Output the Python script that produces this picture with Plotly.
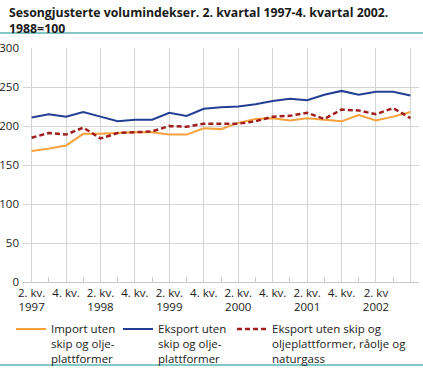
import plotly.graph_objects as go

quarters = list(range(23))  # 2. kv. 1997 ... 4. kv. 2002
tick_positions = list(range(0, 23, 2))
tick_labels = ["2. kv.<br>1997", "4. kv.", "2. kv.<br>1998", "4. kv.", "2. kv.<br>1999", "4. kv.",
               "2. kv.<br>2000", "4. kv.", "2. kv.<br>2001", "4. kv.", "2. kv<br>2002", "4. kv."]

import_vals = [168, 171, 175, 190, 190, 191, 192, 192, 189, 189, 197, 196, 204, 209, 210,
               207, 210, 208, 206, 214, 207, 212, 218]
eksport_vals = [211, 215, 212, 218, 212, 206, 208, 208, 217, 213, 222, 224, 225, 228, 232,
                235, 233, 240, 245, 240, 244, 244, 239]
eksport_ex_oil_vals = [185, 191, 189, 198, 184, 191, 192, 193, 200, 199, 203, 203, 203, 206, 212,
                       213, 217, 209, 221, 220, 215, 223, 210]

names = ["Import uten<br>skip og olje-<br>plattformer",
         "Eksport uten<br>skip og olje-<br>plattformer",
         "Eksport uten skip og<br>oljeplattformer, råolje og<br>naturgass"]
title_text = "<b>Sesongjusterte volumindekser. 2. kvartal 1997-4. kvartal 2002.<br>1988=100</b>"

FONT = "Open Sans"
W, H = 423, 368
L, R, T, B = 23.4, 4, 48, 86
pw, ph = W - L - R, H - T - B

fig = go.Figure()
fig.add_trace(go.Scatter(x=quarters, y=import_vals, mode="lines", name=names[0], legend="legend",
                         line=dict(color="#F7A03C", width=2)))
fig.add_trace(go.Scatter(x=quarters, y=eksport_vals, mode="lines", name=names[1], legend="legend2",
                         line=dict(color="#233F94", width=2)))
fig.add_trace(go.Scatter(x=quarters, y=eksport_ex_oil_vals, mode="lines", name=names[2], legend="legend3",
                         line=dict(color="#A01E1E", width=2.5, dash="5px,3px")))


def legend_at(px):
    return dict(orientation="v", xref="container", yref="container",
                x=px / W, y=1 - 315 / H, xanchor="left", yanchor="top",
                valign="top", itemwidth=30,
                font=dict(family=FONT, size=11.5, color="#222222"),
                bgcolor="rgba(0,0,0,0)")


fig.update_layout(
    width=W, height=H,
    margin=dict(l=L, r=R, t=T, b=B, pad=0, autoexpand=False),
    paper_bgcolor="white", plot_bgcolor="white",
    font=dict(family=FONT, size=11.5, color="#222222"),
    showlegend=True,
    legend=legend_at(11),
    legend2=legend_at(118),
    legend3=legend_at(232),
    annotations=[dict(text=title_text, xref="paper", yref="paper",
                      x=(7 - L) / pw, y=1 + (T - 2) / ph, xanchor="left", yanchor="top",
                      align="left", showarrow=False,
                      font=dict(family=FONT, size=12.3, color="#1a1a1a"))],
    xaxis=dict(range=[-0.5, 22.5], tickmode="array", tickvals=tick_positions, ticktext=tick_labels,
               showgrid=True, gridcolor="#d4d4d4", gridwidth=1, ticks="", zeroline=False,
               showline=False, tickfont=dict(size=11.5), automargin=False, ticklabelstandoff=2,
               minor=dict(tickmode="linear", tick0=1, dtick=2, ticks="inside", ticklen=5,
                          tickcolor="#cccccc", showgrid=False)),
    yaxis=dict(range=[0, 300], tickmode="linear", tick0=0, dtick=50, showgrid=True,
               gridcolor="#d4d4d4", gridwidth=1, zeroline=True, zerolinecolor="#cccccc",
               zerolinewidth=1, ticks="", ticklabelstandoff=3, tickfont=dict(size=11.5),
               automargin=False),
    shapes=[
        dict(type="line", xref="paper", yref="paper", x0=-L / pw, x1=(W - L) / pw,
             y0=1 + (T - 33) / ph, y1=1 + (T - 33) / ph, line=dict(color="#5DB5B5", width=1.5)),
        dict(type="line", xref="paper", yref="paper", x0=-L / pw, x1=(W - L) / pw,
             y0=-(365 - (H - B)) / ph, y1=-(365 - (H - B)) / ph, line=dict(color="#5DB5B5", width=1.5)),
    ],
)

fig.write_html("out.html", config={"displayModeBar": False},
               post_script="document.body.style.margin='0px';")
